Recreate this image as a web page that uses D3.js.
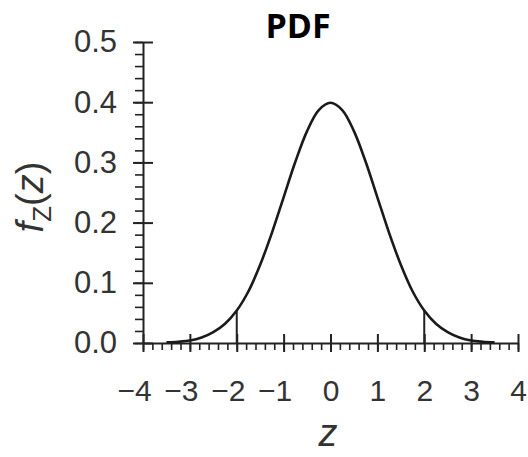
<!DOCTYPE html>
<html>
<head>
<meta charset="utf-8">
<script src="https://cdn.jsdelivr.net/npm/d3@7"></script>
<style>
  body { margin: 0; background: #fff; }
  svg { display: block; }
</style>
</head>
<body>
<div id="chart"></div>
<script>
// standard normal density
let zValues = [-3.5, -3.25, -3, -2.75, -2.5, -2.25, -2, -1.75, -1.5, -1.25, -1, -0.75, -0.5, -0.25,
               0, 0.25, 0.5, 0.75, 1, 1.25, 1.5, 1.75, 2, 2.25, 2.5, 2.75, 3, 3.25, 3.5];
let density = [0.001, 0.002, 0.004, 0.009, 0.018, 0.032, 0.054, 0.086, 0.130, 0.183, 0.242, 0.301, 0.352, 0.387,
               0.399, 0.387, 0.352, 0.301, 0.242, 0.183, 0.130, 0.086, 0.054, 0.032, 0.018, 0.009, 0.004, 0.002, 0.001];
// vertical markers at z = -2 and z = 2
let markerZ = [-2, 2];
let markerHeight = [0.054, 0.054];
let xTicks = [-4, -3, -2, -1, 0, 1, 2, 3, 4];
let yTicks = [0.0, 0.1, 0.2, 0.3, 0.4, 0.5];

let width = 528, height = 457;
let margin = {top: 42, right: 10, bottom: 114, left: 143};

let svg = d3.select("#chart")
  .append("svg")
    .attr("width", width)
    .attr("height", height);

let x = d3.scaleLinear()
    .domain([-4, 4])
    .range([margin.left, 518]);

let y = d3.scaleLinear()
    .domain([0, 0.5])
    .range([343, margin.top]);

let tickFont = "'Liberation Sans', Arial, Helvetica, sans-serif";
let ink = "#222";

// minor ticks first, majors on top
let xMinor = d3.range(-4, 4.001, 0.2).map(d => +d.toFixed(1));
svg.append("g")
    .attr("transform", "translate(0," + y(0) + ")")
    .call(d3.axisBottom(x).tickValues(xMinor).tickSize(7).tickFormat(""))
    .call(g => g.select(".domain").remove())
    .call(g => g.selectAll("line").attr("stroke", ink).attr("stroke-width", 1.6));

let yMinor = d3.range(0, 0.5001, 0.02).map(d => +d.toFixed(2));
svg.append("g")
    .attr("transform", "translate(" + x(-4) + ",0)")
    .call(d3.axisLeft(y).tickValues(yMinor).tickSize(8).tickFormat(""))
    .call(g => g.select(".domain").remove())
    .call(g => g.selectAll("line").attr("stroke", ink).attr("stroke-width", 1.6));

// x axis
let xAxis = svg.append("g")
    .attr("transform", "translate(0," + y(0) + ")")
    .call(d3.axisBottom(x).tickValues(xTicks).tickSize(9).tickPadding(28)
      .tickSizeOuter(0)
      .tickFormat(d => d < 0 ? "\u2212" + Math.abs(d) : d));
xAxis.select(".domain").attr("stroke", ink).attr("stroke-width", 2);
xAxis.selectAll("line").attr("y1", -9).attr("stroke", ink).attr("stroke-width", 2);
xAxis.selectAll("text")
    .attr("font-family", tickFont)
    .attr("font-size", 30)
    .attr("fill", "#333")
    .attr("dx", d => d < 0 ? -9 : 0);

// y axis
let yAxis = svg.append("g")
    .attr("transform", "translate(" + x(-4) + ",0)")
    .call(d3.axisLeft(y).tickValues(yTicks).tickSize(10).tickPadding(16)
      .tickSizeOuter(0)
      .tickFormat(d3.format(".1f")));
yAxis.select(".domain").attr("stroke", ink).attr("stroke-width", 2);
yAxis.selectAll("line").attr("x1", 10).attr("stroke", ink).attr("stroke-width", 2);
yAxis.selectAll("text")
    .attr("font-family", tickFont)
    .attr("font-size", 31)
    .attr("fill", "#333");

// vertical lines at +-2
svg.append("g")
  .selectAll("line")
  .data(markerZ)
  .enter().append("line")
    .attr("x1", d => x(d))
    .attr("x2", d => x(d))
    .attr("y1", y(0))
    .attr("y2", (d, i) => y(markerHeight[i]))
    .attr("stroke", ink)
    .attr("stroke-width", 2);

// the density curve
let line = d3.line()
    .x((d, i) => x(zValues[i]))
    .y(d => y(d))
    .curve(d3.curveCatmullRom);

svg.append("path")
    .datum(density)
    .attr("d", line)
    .attr("fill", "none")
    .attr("stroke", "#1a1a1a")
    .attr("stroke-width", 2.6);

// title
svg.append("text")
    .attr("x", 298)
    .attr("y", 38)
    .attr("text-anchor", "middle")
    .attr("font-family", "'Open Sans', Lato, sans-serif")
    .attr("font-weight", "bold")
    .attr("font-size", 34)
    .attr("fill", "#000")
    .text("PDF");

// x label
svg.append("text")
    .attr("x", 328)
    .attr("y", 446)
    .attr("text-anchor", "middle")
    .attr("font-family", tickFont)
    .attr("font-style", "italic")
    .attr("font-size", 38)
    .attr("fill", "#333")
    .text("z");

// y label: f_Z(z)
let yLab = svg.append("text")
    .attr("transform", "translate(43,197) rotate(-90)")
    .attr("text-anchor", "middle")
    .attr("font-family", tickFont)
    .attr("font-size", 38)
    .attr("fill", "#333");
yLab.append("tspan").attr("font-style", "italic").text("f");
yLab.append("tspan").attr("font-size", 26).attr("dy", 8).text("Z");
yLab.append("tspan").attr("dy", -8).text("(");
yLab.append("tspan").attr("font-style", "italic").text("z");
yLab.append("tspan").text(")");
</script>
</body>
</html>
